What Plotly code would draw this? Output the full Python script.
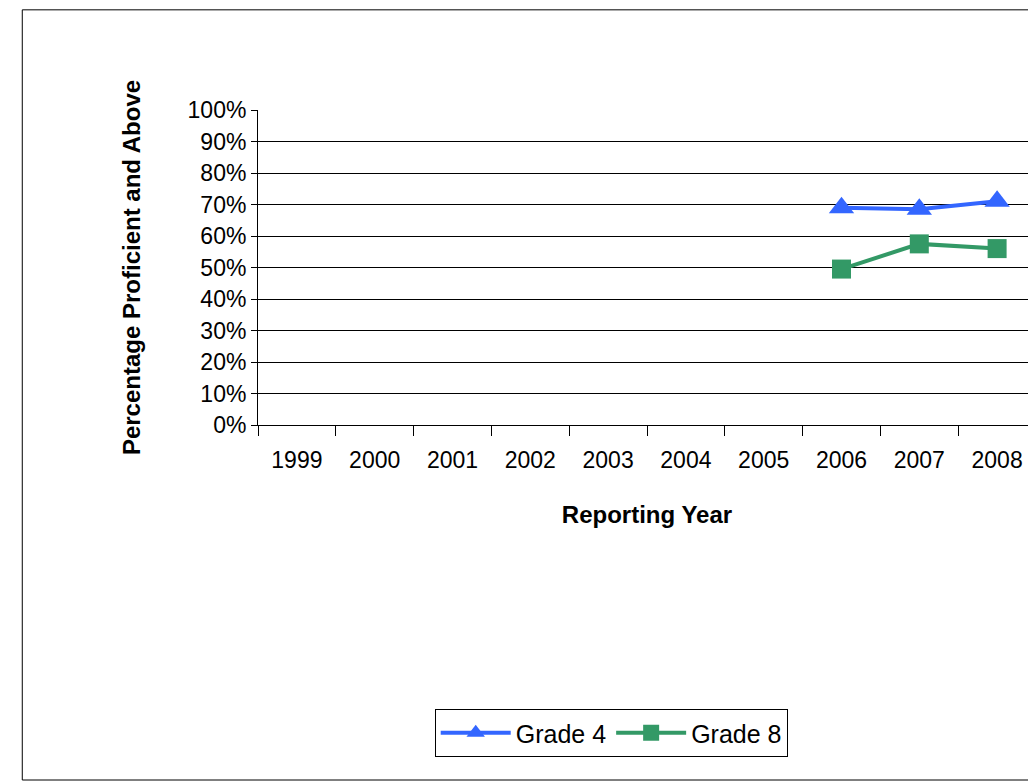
import plotly.graph_objects as go

years = ["1999", "2000", "2001", "2002", "2003", "2004", "2005", "2006", "2007", "2008"]
grade4 = [None, None, None, None, None, None, None, 0.69, 0.685, 0.71]
grade8 = [None, None, None, None, None, None, None, 0.495, 0.575, 0.56]

fig = go.Figure()
fig.add_trace(go.Scatter(x=years, y=grade4, mode="lines+markers", name="Grade 4",
                         line=dict(color="#3366FF", width=4),
                         marker=dict(symbol="triangle-up", size=22, color="#3366FF")))
fig.add_trace(go.Scatter(x=years, y=grade8, mode="lines+markers", name="Grade 8",
                         line=dict(color="#339966", width=4),
                         marker=dict(symbol="square", size=19, color="#339966")))

fig.add_shape(type="rect", xref="paper", yref="paper", x0=-0.303, x1=1.01, y0=-1.127, y1=1.318,
              line=dict(color="black", width=1), fillcolor="rgba(0,0,0,0)", layer="below")

fig.update_layout(
    width=1028, height=775,
    margin=dict(l=250, r=0, t=102, b=358),
    plot_bgcolor="white", paper_bgcolor="white",
    font=dict(family="Liberation Sans, Arial", size=23, color="black"),
    showlegend=True,
    legend=dict(orientation="h", x=0.454, y=-0.978, xanchor="center", yanchor="middle",
                bordercolor="black", borderwidth=1, font=dict(size=25), itemwidth=70),
    xaxis=dict(type="category", categoryorder="array", categoryarray=years,
               tickson="boundaries", ticks="outside", ticklen=10, tickcolor="black",
               showline=True, linecolor="black", showgrid=False, ticklabelstandoff=14,
               title=dict(text="<b>Reporting Year</b>", standoff=34, font=dict(size=24)),
               range=[-0.5, 9.5]),
    yaxis=dict(range=[0, 1], dtick=0.1, tickformat=".0%", showgrid=True, gridcolor="black",
               gridwidth=1, showline=True, linecolor="black", ticks="outside", ticklen=6,
               tickcolor="black", zeroline=False,
               title=dict(text="<b>Percentage Proficient and Above</b>", standoff=40,
                          font=dict(size=24))),
)

fig.write_html("out.html")
